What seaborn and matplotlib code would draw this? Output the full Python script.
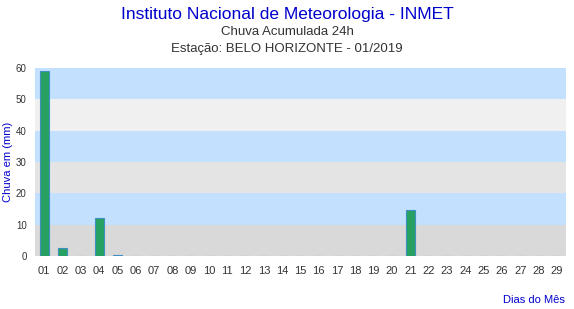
import matplotlib
matplotlib.use("Agg")
import matplotlib.pyplot as plt
import seaborn as sns
import pandas as pd

days = [f"{d:02d}" for d in range(1, 30)]
rain = [59.0, 2.5, 0, 12.0, 0.3, 0, 0, 0, 0, 0, 0, 0, 0, 0, 0, 0, 0, 0, 0, 0,
        14.6, 0, 0, 0, 0, 0, 0, 0, 0]
y_ticks = [0, 10, 20, 30, 40, 50, 60]
band_colors = ["#d9d9d9", "#c4e0ff", "#e4e4e4", "#c4e0ff", "#f0f0f0", "#c4e0ff"]

df = pd.DataFrame({"dia": days, "chuva": rain})

sns.set_theme(style="white")
plt.rcParams['font.family'] = ['Liberation Sans', 'DejaVu Sans']

fig = plt.figure(figsize=(5.74, 3.09), dpi=100)
ax = fig.add_axes([0.061, 0.1715, 0.925, 0.6085])

for i, c in enumerate(band_colors):
    ax.axhspan(y_ticks[i], y_ticks[i + 1], color=c, zorder=0, lw=0)

sns.barplot(data=df, x="dia", y="chuva", ax=ax, color="#26a162", width=0.5,
            edgecolor="#3f8fc0", linewidth=0.8, saturation=1, zorder=2)

ax.set_ylim(0, 60)
ax.set_xlim(-0.5, len(days) - 0.5)
ax.set_yticks(y_ticks)
ax.tick_params(axis="x", labelsize=8, colors="#333333", length=0, pad=7)
ax.tick_params(axis="y", labelsize=7, colors="#333333", length=0, pad=6)
for s in ax.spines.values():
    s.set_visible(False)
ax.set_xlabel("")
ax.set_ylabel("")
fig.text(0.0135, 0.475, "Chuva em (mm)", rotation=90, ha="center", va="center",
         color="#0000cc", fontsize=8)

fig.text(0.5, 0.952, "Instituto Nacional de Meteorologia - INMET", ha="center",
         va="center", color="#0000cc", fontsize=12.5)
fig.text(0.5, 0.895, "Chuva Acumulada 24h", ha="center", va="center",
         color="#333333", fontsize=9.5)
fig.text(0.5, 0.84, "Estação: BELO HORIZONTE - 01/2019", ha="center",
         va="center", color="#333333", fontsize=9.5)
fig.text(0.984, 0.03, "Dias do Mês", ha="right", va="center",
         color="#0000cc", fontsize=8)

fig.savefig("out.png", dpi=100)
